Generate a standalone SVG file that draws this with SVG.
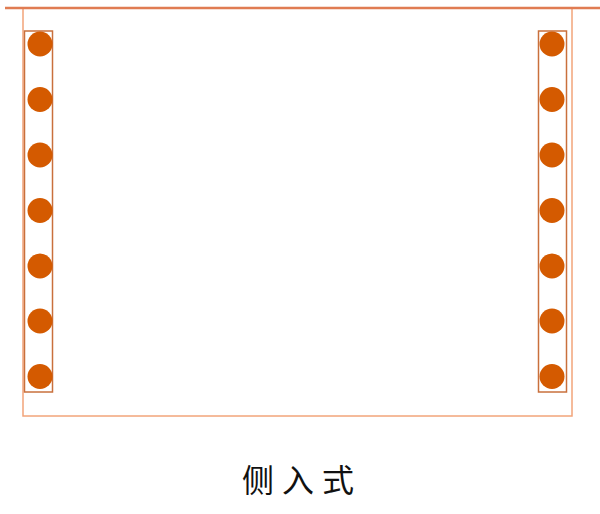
<svg xmlns="http://www.w3.org/2000/svg" width="600" height="514" viewBox="0 0 600 514">
<style>
.frame{fill:none;stroke:#f2a47a;stroke-width:1.5}
.strip{fill:none;stroke:#c9703c;stroke-width:1.5}
.led{fill:#d45a00}
.top{stroke:#e07c52;stroke-width:2.5}
.label{font-family:"Noto Sans CJK SC","Noto Sans",sans-serif;font-size:32px;font-weight:400;fill:#111111;letter-spacing:8px}
</style>
<rect width="600" height="514" fill="#ffffff"/>
<g id="panel">
<rect class="frame" x="23" y="8" width="549" height="408"/>
<line class="top" x1="5" y1="8" x2="600" y2="8"/>
</g>
<g id="left-strip">
<rect class="strip" x="24.5" y="31" width="28" height="361"/>
<circle class="led" cx="40" cy="44" r="12.5"/>
<circle class="led" cx="40" cy="99.5" r="12.5"/>
<circle class="led" cx="40" cy="155" r="12.5"/>
<circle class="led" cx="40" cy="210.5" r="12.5"/>
<circle class="led" cx="40" cy="266" r="12.5"/>
<circle class="led" cx="40" cy="321" r="12.5"/>
<circle class="led" cx="40" cy="376.5" r="12.5"/>
</g>
<g id="right-strip">
<rect class="strip" x="538.5" y="31" width="28" height="361"/>
<circle class="led" cx="552" cy="44" r="12.5"/>
<circle class="led" cx="552" cy="99.5" r="12.5"/>
<circle class="led" cx="552" cy="155" r="12.5"/>
<circle class="led" cx="552" cy="210.5" r="12.5"/>
<circle class="led" cx="552" cy="266" r="12.5"/>
<circle class="led" cx="552" cy="321" r="12.5"/>
<circle class="led" cx="552" cy="376.5" r="12.5"/>
</g>
<g id="caption">
<text class="label" x="302" y="492" text-anchor="middle">侧入式</text>
</g>
</svg>
